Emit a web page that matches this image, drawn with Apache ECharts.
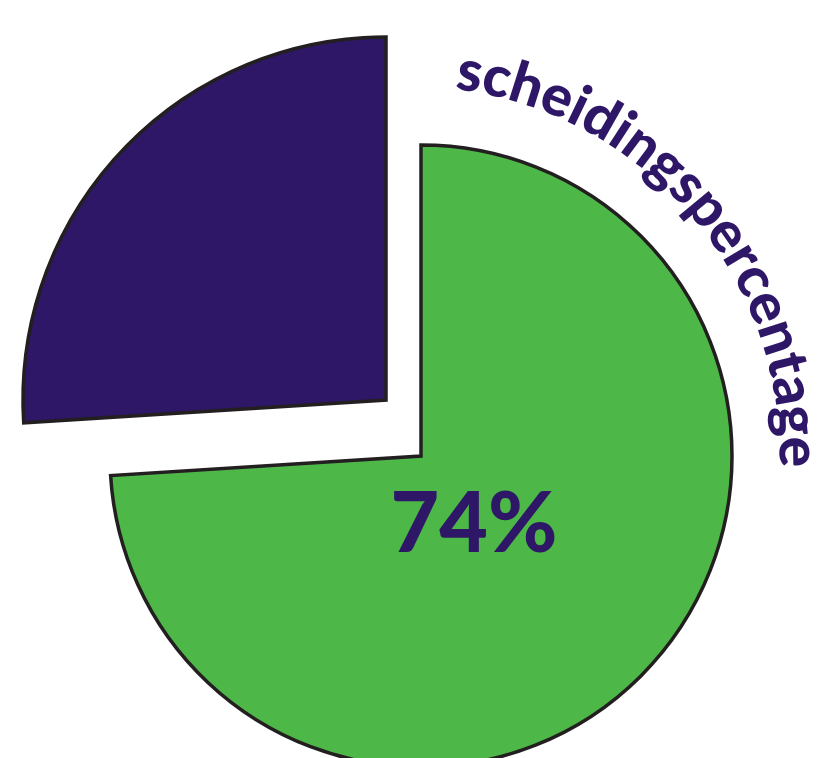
<!DOCTYPE html>
<html><head><meta charset="utf-8">
<script src="https://cdn.jsdelivr.net/npm/echarts@6/dist/echarts.min.js"></script>
<style>html,body{margin:0;padding:0;background:#fff}#c{width:828px;height:758px}</style>
</head><body><div id="c"></div>
<script>
// ---- data ----
const categories = ['scheidingspercentage', 'overig'];
const values = [74, 26];
const arcTitle = 'scheidingspercentage';

// ---- style ----
const GREEN = '#4DB848';
const PURPLE = '#2E1767';
const BORDER = '#231F20';
const FONT = 'Lato';

const chart = echarts.init(document.getElementById('c'), null, {renderer: 'canvas'});

function sliceData(visibleIdx, color) {
  return categories.map((c, i) => ({
    name: c,
    value: values[i],
    itemStyle: i === visibleIdx
      ? {color: color, borderColor: BORDER, borderWidth: 3.5, borderJoin: 'miter'}
      : {color: 'rgba(0,0,0,0)', borderWidth: 0}
  }));
}

// curved title text
const fs = 57;
const fw = '900';
const cv = document.createElement('canvas').getContext('2d');
cv.font = fw + ' ' + fs + 'px ' + FONT;
const chars = arcTitle.split('');
const widths = chars.map(ch => cv.measureText(ch).width);
const arcCx = 410, arcCy = 456, arcR = 388;
const a0 = 8.9, a1 = 89.4; // degrees clockwise from top, first/last char centers
const targetLen = arcR * (a1 - a0) * Math.PI / 180;
let natural = 0;
for (let i = 0; i < chars.length; i++) natural += widths[i];
natural -= (widths[0] + widths[chars.length - 1]) / 2;
const spacing = (targetLen - natural) / (chars.length - 1);
const graphics = [];
let s = 0;
for (let i = 0; i < chars.length; i++) {
  if (i > 0) s += widths[i - 1] / 2 + spacing + widths[i] / 2;
  const th = (a0 * Math.PI / 180) + s / arcR;
  graphics.push({
    type: 'text', z: 100,
    x: arcCx + arcR * Math.sin(th),
    y: arcCy - arcR * Math.cos(th),
    rotation: -th,
    silent: true,
    style: {
      text: chars[i], fill: PURPLE,
      font: fw + ' ' + fs + 'px ' + FONT,
      align: 'center', verticalAlign: 'middle'
    }
  });
}
graphics.push({
  type: 'text', x: 474, y: 525, z: 100, silent: true,
  style: {
    text: values[0] + '%', fill: PURPLE,
    font: '900 84px ' + FONT,
    align: 'center', verticalAlign: 'middle'
  }
});

chart.setOption({
  animation: false,
  backgroundColor: '#ffffff',
  series: [
    {
      type: 'pie', center: [421, 456], radius: 311, startAngle: 90, clockwise: true,
      label: {show: false}, labelLine: {show: false}, silent: true, z: 1,
      data: sliceData(0, GREEN)
    },
    {
      type: 'pie', center: [386, 400], radius: 363, startAngle: 90, clockwise: true,
      label: {show: false}, labelLine: {show: false}, silent: true, z: 1,
      data: sliceData(1, PURPLE)
    }
  ],
  graphic: {elements: graphics}
});
</script>
</body></html>
